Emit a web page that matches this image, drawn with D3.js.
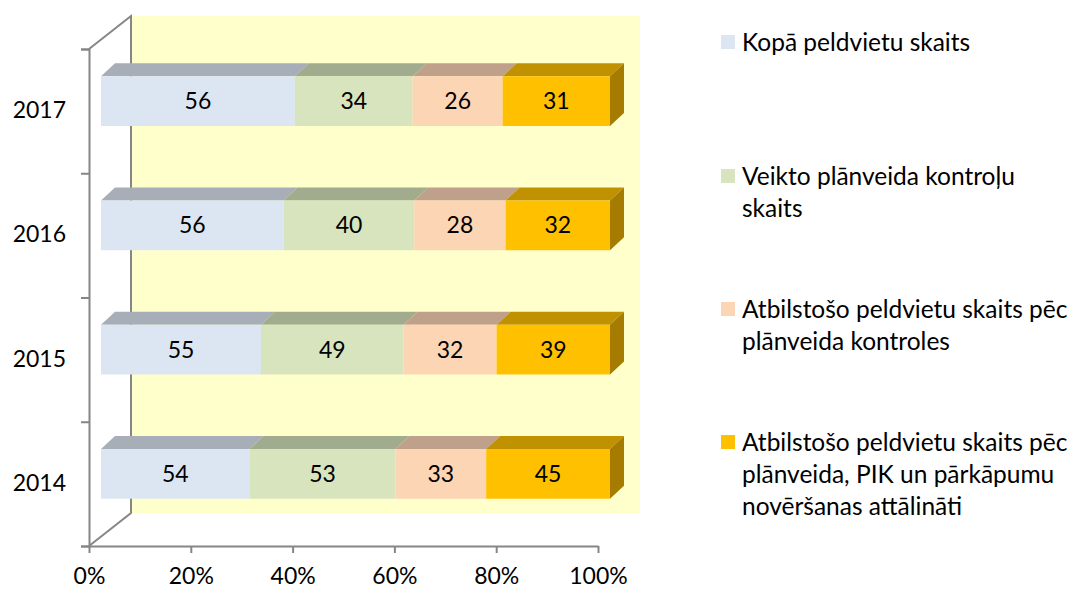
<!DOCTYPE html>
<html>
<head>
<meta charset="utf-8">
<script src="https://cdn.jsdelivr.net/npm/d3@7"></script>
<style>
  body { margin: 0; background: #fff; }
  svg text { font-family: Lato, "Open Sans", sans-serif; fill: #000; }
</style>
</head>
<body>
<div id="chart"></div>
<script>
// chart values
const years = ["2014", "2015", "2016", "2017"];
const kopa = [54, 55, 56, 56];
const veikto = [53, 49, 40, 34];
const atbilstosas = [33, 32, 28, 26];
const atbilstosasPik = [45, 39, 32, 31];
const seriesNames = [
  ["Kopā peldvietu skaits"],
  ["Veikto plānveida kontroļu", "skaits"],
  ["Atbilstošo peldvietu skaits pēc", "plānveida kontroles"],
  ["Atbilstošo peldvietu skaits pēc", "plānveida, PIK un pārkāpumu", "novēršanas attālināti"]
];
const tickLabels = [0, 0.2, 0.4, 0.6, 0.8, 1];

// colours: front, top, side
const colors = [
  { front: "#DCE6F2", top: "#A7AEB8", side: "#A7AEB8" },
  { front: "#D7E4BD", top: "#A1AC8E", side: "#A1AC8E" },
  { front: "#FCD5B5", top: "#BFA08A", side: "#BFA08A" },
  { front: "#FFC000", top: "#C09100", side: "#A67C00" }
];

const width = 1073, height = 590;
const wall = { dx: 42, dy: -33 };       // depth of the 3d box
const bar = { sx: 12, sy: -10, dx: 14, dy: -13 }; // bar front shift and bar depth
const fontSize = 23, legendFont = 24.5;

const svg = d3.select("#chart").append("svg").attr("width", width).attr("height", height);

const x = d3.scaleLinear().domain([0, 1]).range([89, 598]);
const y = d3.scaleBand().domain(years.slice().reverse()).range([49, 546]);
const yLin = d3.scaleLinear().domain([0, 4]).range([546, 49]);

// stacked share data
const rows = years.map((yr, i) => {
  const vals = [kopa[i], veikto[i], atbilstosas[i], atbilstosasPik[i]];
  const total = d3.sum(vals);
  let acc = 0;
  return { year: yr, segs: vals.map((v, k) => { const s = { k, v, x0: acc / total, x1: (acc + v) / total }; acc += v; return s; }) };
});

const axisColor = "#868686";

// back wall
const x0 = x(0), x1 = x(1), yTop = y.range()[0], yBot = y.range()[1];
svg.append("rect")
  .attr("x", x0 + wall.dx).attr("y", yTop + wall.dy)
  .attr("width", x1 - x0).attr("height", yBot - yTop)
  .attr("fill", "#FFFFCC");

// side wall and floor edges
const edges = svg.append("g").attr("stroke", axisColor).attr("stroke-width", 2).attr("fill", "none");
edges.append("path").attr("d", `M${x0},${yTop}L${x0 + wall.dx},${yTop + wall.dy}L${x0 + wall.dx},${yBot + wall.dy}L${x0},${yBot}`);

// left axis (ticks at band edges)
svg.append("g")
  .attr("transform", `translate(${x0},0)`)
  .call(d3.axisLeft(yLin).ticks(4).tickFormat("").tickSizeInner(8).tickSizeOuter(8))
  .call(g => g.selectAll("line, path").attr("stroke", axisColor).attr("stroke-width", 2));

// year labels
svg.append("g")
  .attr("transform", `translate(${x0},0)`)
  .call(d3.axisLeft(y).tickSize(0).tickPadding(23))
  .call(g => g.select(".domain").remove())
  .call(g => g.selectAll("text").attr("font-size", fontSize).attr("font-family", "Lato, sans-serif").attr("dy", "0.3em"));

// bottom axis
svg.append("g")
  .attr("transform", `translate(0,${yBot})`)
  .call(d3.axisBottom(x).tickValues(tickLabels).tickFormat(d3.format(".0%")).tickSizeInner(7).tickSizeOuter(0).tickPadding(15))
  .call(g => g.selectAll("line, path").attr("stroke", axisColor).attr("stroke-width", 2))
  .call(g => g.selectAll("text").attr("font-size", fontSize).attr("font-family", "Lato, sans-serif"));

// bars
const bh = y.bandwidth() * 0.4;
const barX = v => x(v) + bar.sx;
rows.forEach(r => {
  const cy = y(r.year) + y.bandwidth() / 2 + bar.sy;
  const top = cy - bh / 2;
  const g = svg.append("g");
  r.segs.forEach(s => {
    const a = barX(s.x0), b = barX(s.x1);
    g.append("path")
      .attr("d", `M${a},${top}L${a + bar.dx},${top + bar.dy}L${b + bar.dx},${top + bar.dy}L${b},${top}Z`)
      .attr("fill", colors[s.k].top);
    g.append("rect")
      .attr("x", a).attr("y", top).attr("width", b - a).attr("height", bh)
      .attr("fill", colors[s.k].front);
    g.append("text")
      .attr("x", (a + b) / 2).attr("y", cy).attr("dy", "0.35em")
      .attr("text-anchor", "middle").attr("font-size", fontSize)
      .text(s.v);
  });
  const last = r.segs[r.segs.length - 1];
  const e = barX(last.x1);
  g.append("path")
    .attr("d", `M${e},${top}L${e + bar.dx},${top + bar.dy}L${e + bar.dx},${top + bar.dy + bh}L${e},${top + bh}Z`)
    .attr("fill", colors[last.k].side);
});

// legend
const legendY = [42, 176, 309, 442];
const legend = svg.append("g").attr("transform", "translate(721,0)");
seriesNames.forEach((lines, k) => {
  legend.append("rect").attr("x", 0).attr("y", legendY[k] - 7).attr("width", 14).attr("height", 14).attr("fill", colors[k].front);
  const t = legend.append("text").attr("x", 21).attr("y", legendY[k]).attr("font-size", legendFont);
  lines.forEach((ln, j) => t.append("tspan").attr("x", 21).attr("dy", j === 0 ? "0.35em" : 32).text(ln));
});
</script>
</body>
</html>
